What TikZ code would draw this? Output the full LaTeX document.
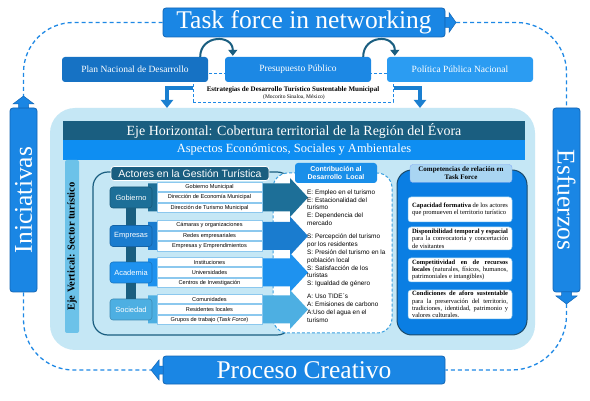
\documentclass[tikz,border=0pt]{standalone}
\usepackage{fontspec}
\setmainfont{Liberation Serif}
\setsansfont{Liberation Sans}
\usetikzlibrary{calc,arrows.meta}
\definecolor{mainblue}{HTML}{1A86E4}
\definecolor{mainborder}{HTML}{1466B5}
\definecolor{dashblue}{HTML}{1E88E5}
\definecolor{darkteal}{HTML}{1A5E80}
\definecolor{bandblue}{HTML}{0E8EF2}
\definecolor{bgblue}{HTML}{C5E7F5}
\definecolor{vertband}{HTML}{6CC2E9}
\definecolor{planA}{HTML}{1672C4}
\definecolor{planB}{HTML}{1C88E4}
\definecolor{planC}{HTML}{2B9CF2}
\definecolor{gobc}{HTML}{1D6F98}
\definecolor{empc}{HTML}{1A7CCF}
\definecolor{acac}{HTML}{1E92EF}
\definecolor{socc}{HTML}{4DAFE2}
\definecolor{rowborder}{HTML}{8CC8EE}
\definecolor{contrhead}{HTML}{1A8FE9}
\definecolor{contrdash}{HTML}{3AA0E0}
\definecolor{compblue}{HTML}{0A7EE3}
\definecolor{compborder}{HTML}{1B4B6B}
\definecolor{comphead}{HTML}{A9D5F2}
\definecolor{arrowblue}{HTML}{1A7FD0}
\tikzset{
  bigbox/.style={fill=mainblue, draw=mainborder, line width=0.8pt, rounded corners=3pt, inner sep=0pt, text=white, font=\fontsize{25.5}{28}\selectfont},
  planbox/.style={rounded corners=3pt, inner sep=0pt, minimum width=146pt, minimum height=25pt, text=white, font=\fontsize{9.5}{11}\selectfont},
  dashline/.style={draw=dashblue, line width=1.3pt, dash pattern=on 4pt off 3pt},
  actor/.style={rounded corners=3pt, inner sep=0pt, minimum width=42pt, minimum height=21pt, text=white, line width=0.6pt, font=\sffamily\fontsize{7.5}{8}\selectfont},
  rowbox/.style={fill=white, draw=rowborder, line width=0.5pt, inner sep=0pt, minimum width=105pt, minimum height=9.5pt, font=\sffamily\fontsize{5.6}{6}\selectfont},
  compcell/.style={fill=white, draw=rowborder, line width=0.5pt, rounded corners=3pt, inner sep=0pt, minimum width=104pt, text width=96pt, align=justify, font=\fontsize{6.5}{7.3}\selectfont},
  bendarrow/.style={draw=arrowblue, line width=4pt, -{Triangle[length=8pt,width=12pt]}},
  curvarrow/.style={draw=darkteal, line width=2pt, -{Triangle[length=6pt,width=9pt]}},
  headshape/.style={fill=mainblue, draw=mainborder, line width=0.5pt},
}
\begin{document}
\hyphenpenalty=10000
\exhyphenpenalty=10000
\begin{tikzpicture}[x=1pt,y=-1pt]
\useasboundingbox (0,0) rectangle (590,401);
\fill[white] (0,0) rectangle (590,401);

% coordinates for arrow tips
\coordinate (tftip) at (456,22.5);
\coordinate (initip) at (23.5,96);
\coordinate (esftip) at (566.5,304);
\coordinate (prtip) at (151,370);

% main outer boxes
\node[bigbox, minimum width=282pt, minimum height=29pt] (tf) at (304,22.5) {Task force in networking};
\node[bigbox, minimum width=282pt, minimum height=28pt] (pr) at (304,370) {Proceso Creativo};
\node[bigbox, rotate=90, minimum width=184pt, minimum height=27pt] (ini) at (23.5,200) {Iniciativas};
\node[bigbox, rotate=-90, minimum width=184pt, minimum height=27pt] (esf) at (566.5,200) {Esfuerzos};

% arrow heads on the outer boxes
\filldraw[headshape] (445,17.5) -- (449,17.5) -- (449,12.5) -- (tftip) -- (449,32.5) -- (449,27.5) -- (445,27.5) -- cycle;
\filldraw[headshape] (18.5,108) -- (18.5,104) -- (13,104) -- (initip) -- (34,104) -- (28.5,104) -- (28.5,108) -- cycle;
\filldraw[headshape] (561.5,292) -- (561.5,296) -- (556,296) -- (esftip) -- (577,296) -- (571.5,296) -- (571.5,292) -- cycle;
\filldraw[headshape] (163,366) -- (159,366) -- (159,360) -- (prtip) -- (159,380) -- (159,374) -- (163,374) -- cycle;

% dashed cycle
\draw[dashline, rounded corners=50pt] (tftip) -| (esf.west);
\draw[dashline, rounded corners=50pt] (tf.west) -| (initip);
\draw[dashline, rounded corners=50pt] (ini.west) |- (prtip);
\draw[dashline, rounded corners=55pt] (esftip) |- (pr.east);

% strategy box (behind plan boxes)
\node[draw=dashblue, fill=white, line width=1pt, dash pattern=on 3pt off 2pt, inner sep=0pt, minimum width=200pt, minimum height=29pt] (est) at (293,88) {};
\node[font=\bfseries\fontsize{7}{8}\selectfont, inner sep=0pt] (estT) at (293,89.5) {Estrategias de Desarrollo Turístico Sustentable Municipal};
\node[font=\fontsize{5.5}{6}\selectfont, inner sep=0pt] (estS) at (294,97.5) {(Mocorito Sinaloa, México)};

\node[planbox, fill=planA] (p1) at (135,69.5) {Plan Nacional de Desarrollo};
\node[planbox, fill=planB] (p2) at (298,69.5) {Presupuesto Público};
\node[planbox, fill=planC] (p3) at (460,69.5) {Política Pública Nacional};

\draw[curvarrow] ($(p1.north east)+(-8,0)$) .. controls +(0,-22) and +(0,-22) .. ($(p2.north west)+(8,-1)$);
\draw[curvarrow] ($(p2.north east)+(-8,0)$) .. controls +(0,-22) and +(0,-22) .. ($(p3.north west)+(8,-1)$);

% background panel
\node[fill=bgblue, rounded corners=25pt, inner sep=0pt, minimum width=485pt, minimum height=242pt] (bg) at (292.5,229) {};
\coordinate (la) at (167,108);
\coordinate (ra) at (420,108);
\draw[bendarrow] (est.west) -| (la);
\draw[bendarrow] (est.east) -| (ra);

\node[fill=darkteal, inner sep=0pt, minimum width=462pt, minimum height=19pt, text=white, font=\fontsize{14}{16}\selectfont] (ejeh) at (294,131) {Eje Horizontal: Cobertura territorial de la Región del Évora};
\node[fill=bandblue, inner sep=0pt, minimum width=462pt, minimum height=20pt, text=white, font=\fontsize{12.5}{14}\selectfont] (asp) at (294,150) {Aspectos Económicos, Sociales y Ambientales};
\node[fill=vertband, inner sep=0pt, rounded corners=2pt, rotate=90, minimum width=173pt, minimum height=14pt, font=\bfseries\fontsize{10.5}{12}\selectfont] (ejev) at (72,246.5) {Eje Vertical: Sector turístico};

% actors group outline
\node[draw=darkteal, line width=1.2pt, rounded corners=15pt, inner sep=0pt, minimum width=199pt, minimum height=163pt] (actout) at (192.5,253.5) {};

% contribution box
\node[draw=contrdash, fill=white, line width=1pt, dash pattern=on 3pt off 2pt, rounded corners=15pt, inner sep=0pt, minimum width=119pt, minimum height=160pt] (contr) at (332.5,253) {};

% block arrows
\foreach \c/\col in {197.5/gobc, 236/empc, 272.5/acac, 309.5/socc}{
  \fill[\col] (148,{\c-14}) -- (290,{\c-14}) -- (290,{\c-19.5}) -- (308,\c) -- (290,{\c+19.5}) -- (290,{\c+14}) -- (148,{\c+14}) -- cycle;
}

% actor nodes
\node[actor, fill=gobc, draw=gobc!80!black] (gob) at (131,197.5) {Gobierno};
\node[actor, fill=empc, draw=empc!80!black] (emp) at (131,236) {Empresas};
\node[actor, fill=acac, draw=acac!80!black] (aca) at (131,272.5) {Academia};
\node[actor, fill=socc, draw=socc!80!black] (soc) at (131,309.5) {Sociedad};
\draw[darkteal, line width=10pt] (gob.south) -- (emp.north);
\draw[darkteal, line width=10pt] (emp.south) -- (aca.north);
\draw[darkteal, line width=10pt] (aca.south) -- (soc.north);

% rows
\node[rowbox] (g1) at (209.5,187) {Gobierno Municipal};
\node[rowbox] (g2) at (209.5,197.5) {Dirección de Economía Municipal};
\node[rowbox] (g3) at (209.5,208) {Dirección de Turismo Municipal};
\node[rowbox] (e1) at (209.5,225.5) {Cámaras y organizaciones};
\node[rowbox] (e2) at (209.5,236) {Redes empresariales};
\node[rowbox] (e3) at (209.5,246.5) {Empresas y Emprendimientos};
\node[rowbox] (a1) at (209.5,262) {Instituciones};
\node[rowbox] (a2) at (209.5,272.5) {Universidades};
\node[rowbox] (a3) at (209.5,283) {Centros de Investigación};
\node[rowbox] (s1) at (209.5,299) {Comunidades};
\node[rowbox] (s2) at (209.5,309.5) {Residentes locales};
\node[rowbox] (s3) at (209.5,320) {Grupos de trabajo (\textit{Task Force})};

\node[fill=darkteal, draw=white, line width=0.8pt, rounded corners=3pt, inner sep=0pt, minimum width=158pt, minimum height=14pt, text=white, font=\sffamily\fontsize{10.5}{12}\selectfont] (acttitle) at (190,173.5) {Actores en la Gestión Turística};

% contribution header and text
\node[fill=contrhead, rounded corners=3pt, inner sep=0pt, minimum width=82pt, minimum height=20pt, text=white, align=center, font=\sffamily\bfseries\fontsize{7}{8}\selectfont] (chead) at (336,173) {Contribución al\\Desarrollo~~Local};
\node[anchor=north west, align=left, inner sep=0pt, font=\sffamily\fontsize{6.4}{7.8}\selectfont] (ctext) at (307,189.5) {E: Empleo en el turismo\\E: Estacionalidad del\\turismo\\E: Dependencia del\\mercado\\[5.5pt]S: Percepción del turismo\\por los residentes\\S: Presión del turismo en la\\población local\\S: Satisfacción de los\\turistas\\S: Igualdad de género\\[5.5pt]A: Uso TIDE´s\\A: Emisiones de carbono\\A:Uso del agua en el\\turismo};

% competencias
\node[fill=compblue, draw=compborder, line width=1pt, rounded corners=15pt, inner sep=0pt, minimum width=130pt, minimum height=165pt] (comp) at (462,252.5) {};
\node[fill=comphead, draw=comphead!80!blue, line width=0.4pt, rounded corners=3pt, inner sep=0pt, minimum width=102pt, minimum height=18pt, align=center, font=\bfseries\fontsize{7}{8}\selectfont] (chd) at (461,173.5) {Competencias de relación en\\Task Force};
\node[compcell, minimum height=25pt] (k1) at (460,209.5) {\textbf{Capacidad formativa} de los actores que promueven el territorio turístico};
\node[compcell, minimum height=23pt] (k2) at (460,238.5) {\textbf{Disponibilidad temporal y espacial} para la convocatoria y concertación de visitantes};
\node[compcell, minimum height=24pt] (k3) at (460,270) {\textbf{Competitividad en de recursos locales} (naturales, físicos, humanos, patrimoniales e intangibles)};
\node[compcell, minimum height=29pt] (k4) at (460,304.5) {\textbf{Condiciones de aforo sustentable} para la preservación del territorio, tradiciones, identidad, patrimonio y valores culturales.};
\end{tikzpicture}
\end{document}
